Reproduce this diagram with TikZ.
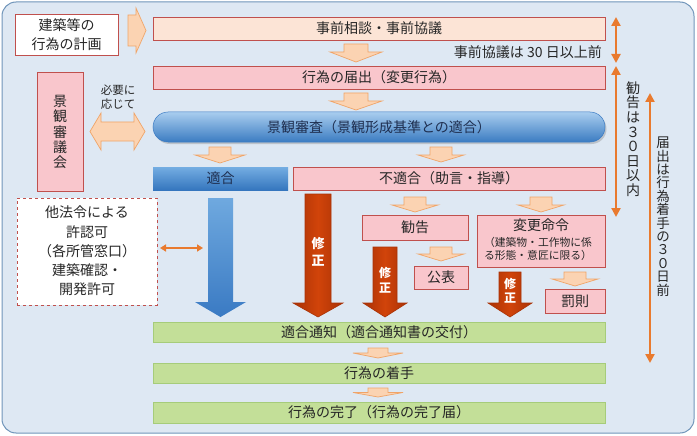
\documentclass[tikz,border=0pt]{standalone}
\usepackage{fontspec}
\setmainfont{Noto Sans CJK JP}
\usetikzlibrary{arrows.meta,shadows}
\definecolor{bgfill}{HTML}{DEE8F3}
\definecolor{bgline}{HTML}{7095BA}
\definecolor{boxred}{HTML}{C0504D}
\definecolor{pinkfill}{HTML}{F9C6CC}
\definecolor{peachfill}{HTML}{FCE4D6}
\definecolor{chevfill}{HTML}{FBD3B2}
\definecolor{chevline}{HTML}{F0A468}
\definecolor{greenfill}{HTML}{C3DF98}
\definecolor{greenline}{HTML}{A6CC7A}
\definecolor{redfill}{HTML}{CC3D0B}
\definecolor{redline}{HTML}{A93206}
\definecolor{orangeline}{HTML}{E97A2E}
\definecolor{txt}{HTML}{262626}
\definecolor{navy}{HTML}{1F2F50}
\newcommand{\blkdown}[7]{\path[#1] (#2-#6,#3) -- (#2+#6,#3) -- (#2+#6,#4) -- (#2+#7,#4) -- (#2,#5) -- (#2-#7,#4) -- (#2-#6,#4) -- cycle;}
\begin{document}
\begin{tikzpicture}[x=1pt,y=-1pt,
  every node/.style={text=txt, inner sep=0pt},
  bigfont/.style={font=\fontsize{14}{17}\selectfont},
  rbox/.style={draw=boxred, line width=0.8pt, bigfont},
  pinkbox/.style={rbox, fill=pinkfill},
  peachbox/.style={rbox, fill=peachfill},
  whitebox/.style={rbox, fill=white},
  greenbox/.style={draw=greenline, line width=0.8pt, fill=greenfill, bigfont},
  chev/.style={draw=chevline, line width=0.7pt, fill=chevfill},
  redarr/.style={draw=redline, line width=0.6pt, left color=redline, right color=redline, middle color=redfill!90!orange},
  bluearr/.style={draw=none, top color=HTML6FA9DF, bottom color=HTML3A7AC3},
  orangearr/.style={draw=orangeline, line width=2.4pt, {Triangle[width=9pt,length=9pt]}-{Triangle[width=9pt,length=9pt]}},
  smallarr/.style={draw=orangeline, line width=2pt, {Triangle[width=7pt,length=6pt]}-{Triangle[width=7pt,length=6pt]}},
  vtext/.style={align=center, font=\fontsize{14}{14.6}\selectfont},
  redtext/.style={text=white, align=center, font=\fontsize{13}{16}\selectfont\bfseries}
]
\definecolor{HTML6FA9DF}{HTML}{6FA9DF}
\definecolor{HTML3A7AC3}{HTML}{3A7AC3}
\definecolor{pilltop}{HTML}{A9CDEF}
\definecolor{pillbot}{HTML}{3B7CC2}
\definecolor{tektop}{HTML}{74ADE2}
\definecolor{tekbot}{HTML}{3576BE}
% background
\path[use as bounding box] (0,0) rectangle (697,436);
\draw[fill=bgfill, draw=bgline, line width=1pt, rounded corners=14pt] (2,2) rectangle (694,433);

% boxes
\node[whitebox, minimum width=103pt, minimum height=41pt, align=center, font=\fontsize{14}{19}\selectfont] (plan) at (66.5,34.5) {建築等の\\行為の計画};
\node[peachbox, minimum width=452pt, minimum height=23pt] (soudan) at (379,28.5) {事前相談・事前協議};
\node[pinkbox, minimum width=452pt, minimum height=23pt] (todoke) at (379,77.5) {行為の届出（変更行為）};
\node[draw=HTML3A7AC3, line width=0.5pt, top color=pilltop, bottom color=pillbot, rounded corners=15pt, minimum width=452pt, minimum height=30pt, bigfont, text=navy,
  drop shadow={shadow xshift=1.5pt, shadow yshift=-2pt, opacity=0.35}] (shinsa) at (379,127) {景観審査（景観形成基準との適合）};
\node[pinkbox, minimum width=46pt, minimum height=119pt] (shingikai) at (60,131.5) {};
\node[vtext, font=\fontsize{14}{15.2}\selectfont] (shingikaitxt) at (60,132) {景\\観\\審\\議\\会};
\node[align=center, font=\fontsize{11.5}{14}\selectfont] (hitsuyo) at (118,97) {必要に\\応じて};
\node[draw=none, top color=tektop, bottom color=tekbot, minimum width=135pt, minimum height=23pt, bigfont, text=navy] (tekigo) at (220.5,178.5) {適合};
\node[pinkbox, minimum width=312pt, minimum height=23pt] (futekigo) at (449,178.5) {不適合（助言・指導）};
\node[pinkbox, minimum width=106pt, minimum height=25pt] (kankoku) at (415,227.5) {勧告};
\node[pinkbox, minimum width=128pt, minimum height=52pt] (henko) at (541,241) {};
\node[bigfont] (henkotxt) at (541,225.5) {変更命令};
\node[align=center, font=\fontsize{10.8}{12.5}\selectfont] (henkosub) at (538,249) {（建築物・工作物に係\\る形態・意匠に限る）};
\node[pinkbox, minimum width=54pt, minimum height=23pt] (kohyo) at (441,277.5) {公表};
\node[pinkbox, minimum width=60pt, minimum height=24pt] (batsu) at (575,301) {罰則};
\node[draw=boxred, dashed, line width=0.8pt, fill=white, minimum width=140pt, minimum height=107pt] (tahorei) at (87,251.5) {};
\node[align=center, font=\fontsize{14}{19.2}\selectfont] (tahoreitxt) at (87,251) {他法令による\\許認可\\（各所管窓口）\\建築確認・\\開発許可};
\node[greenbox, minimum width=452pt, minimum height=20pt] (tsuchi) at (379,332) {適合通知（適合通知書の交付）};
\node[greenbox, minimum width=452pt, minimum height=20pt] (chakushu) at (379,373) {行為の着手};
\node[greenbox, minimum width=452pt, minimum height=21pt] (kanryo) at (379,412.5) {行為の完了（行為の完了届）};

\node[anchor=east, bigfont] (note30) at (602,52) {事前協議は 30 日以上前};

% block arrows
\path[chev] (128,15) -- (136,15) -- (136,8) -- (146,30.5) -- (136,53) -- (136,46) -- (128,46) -- cycle;
\path[chev] (90,131.5) -- (101,113) -- (101,122) -- (134,122) -- (134,113) -- (145,131.5) -- (134,150) -- (134,141) -- (101,141) -- (101,150) -- cycle;
\blkdown{chev}{356}{44}{52}{62}{12}{26}
\blkdown{chev}{356}{93}{101}{110}{12}{26}
\blkdown{chev}{220}{147}{155}{163}{11}{25}
\blkdown{chev}{441}{147}{155}{162}{11}{23}
\blkdown{chev}{415}{197}{205}{212}{11}{23}
\blkdown{chev}{541}{197}{205}{212}{11}{23}
\blkdown{chev}{441}{247}{254}{261}{11}{23}
\blkdown{chev}{575}{272}{279}{286}{11}{23}
\blkdown{chev}{378}{348}{353}{358}{10}{25}
\blkdown{chev}{378}{388}{392.5}{397}{10}{25}

\blkdown{bluearr}{220.5}{198}{302}{317}{12.5}{25.5}
\blkdown{redarr}{318}{194}{303}{317}{13}{25}
\blkdown{redarr}{385}{247}{303}{317}{12}{22}
\blkdown{redarr}{510}{272}{303}{317}{11}{22}
\node[redtext, font=\fontsize{13}{17}\selectfont\bfseries] (shusei1) at (318,252) {修\\正};
\node[redtext, font=\fontsize{12}{15}\selectfont\bfseries] (shusei2) at (385,280) {修\\正};
\node[redtext, font=\fontsize{12}{14}\selectfont\bfseries] (shusei3) at (510,291) {修\\正};

% thin orange arrows
\coordinate (oa1) at (160,248);
\coordinate (oa2) at (203,248);
\draw[smallarr] (oa1) -- (oa2);
\coordinate (r1a) at (616,17);
\coordinate (r1b) at (616,63);
\coordinate (r2a) at (616,66);
\coordinate (r2b) at (616,217);
\coordinate (r3a) at (650,93);
\coordinate (r3b) at (650,363);
\draw[orangearr] (r1a) -- (r1b);
\draw[orangearr] (r2a) -- (r2b);
\draw[orangearr] (r3a) -- (r3b);
\node[vtext] (kankoku30) at (633,139) {勧\\告\\は\\３\\０\\日\\以\\内};
\node[vtext, font=\fontsize{13.5}{13.4}\selectfont] (todoke30) at (663,216.5) {届\\出\\は\\行\\為\\着\\手\\の\\３\\０\\日\\前};
\end{tikzpicture}
\end{document}
